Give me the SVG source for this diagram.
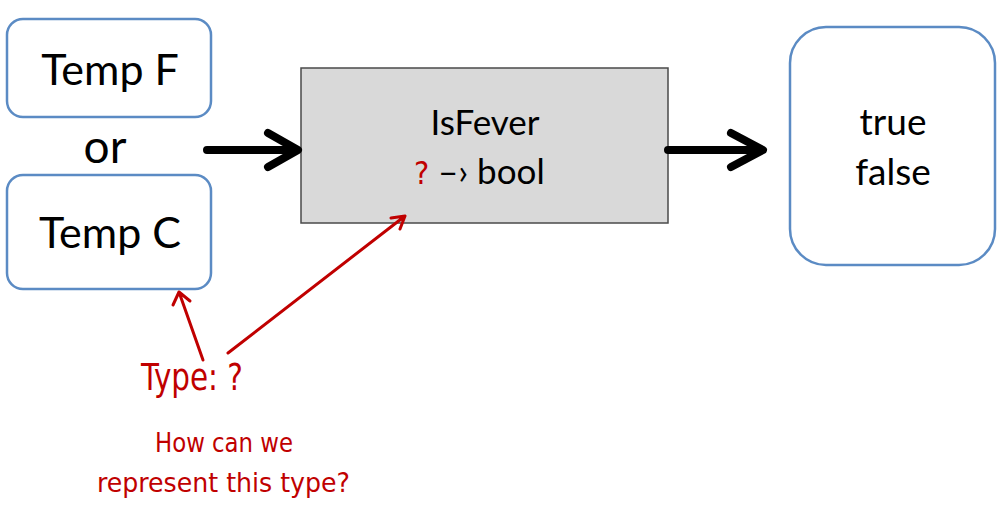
<svg xmlns="http://www.w3.org/2000/svg" width="1004" height="515" viewBox="0 0 1004 515">
<defs>
<style>
.blue{fill:#fff;stroke:#5b8bc4;stroke-width:2.5}
.t{font-family:Lato,"Liberation Sans",sans-serif;fill:#000;text-anchor:middle}
.hand{font-family:"DejaVu Sans Condensed","Liberation Sans",sans-serif;fill:#c00000}
.big{stroke:#000;stroke-width:8;fill:none;stroke-linecap:round;stroke-linejoin:round}
.red{stroke:#c00000;stroke-width:3;fill:none;stroke-linecap:round;stroke-linejoin:round}
</style>
</defs>
<rect width="1004" height="515" fill="#fff"/>
<g id="tempF">
<rect class="blue" x="7" y="19" width="204" height="98" rx="16"/>
<text class="t" x="110" y="85" font-size="43">Temp F</text>
</g>
<g id="or">
<text class="t" x="105" y="163" font-size="46">or</text>
</g>
<g id="tempC">
<rect class="blue" x="7" y="175" width="204" height="114" rx="16"/>
<text class="t" x="110" y="248" font-size="43">Temp C</text>
</g>
<g id="isFever">
<rect x="301" y="68" width="367" height="155" fill="#d9d9d9" stroke="#4a4a4a" stroke-width="1.5"/>
<text class="t" x="485" y="135" font-size="35">IsFever</text>
<text x="414" y="184" font-size="32" class="hand">?</text>
<text x="438" y="184" font-size="35" font-family="Lato,'Liberation Sans',sans-serif">–› bool</text>
</g>
<g id="result">
<rect class="blue" x="790" y="27" width="205" height="238" rx="36"/>
<text class="t" x="893" y="135" font-size="37">true</text>
<text class="t" x="893" y="185" font-size="37">false</text>
</g>
<g id="connectors">
<path class="big" d="M207 150 H296 M268 133 L298 150 L268 167"/>
<path class="big" d="M668 150 H761 M731 133 L763 150 L731 167"/>
<path class="red" d="M203 360 L179 292 M173 305 L179 292 L190 301"/>
<path class="red" d="M228 353 L405 216 M391 218 L405 216 L400 229"/>
</g>
<g id="notes">
<text class="hand" x="141" y="390" font-size="38" textLength="102" lengthAdjust="spacingAndGlyphs">Type: ?</text>
<text class="hand" x="155" y="452" font-size="27" textLength="138" lengthAdjust="spacingAndGlyphs">How can we</text>
<text class="hand" x="97" y="492" font-size="27" textLength="253" lengthAdjust="spacingAndGlyphs">represent this type?</text>
</g>
</svg>
